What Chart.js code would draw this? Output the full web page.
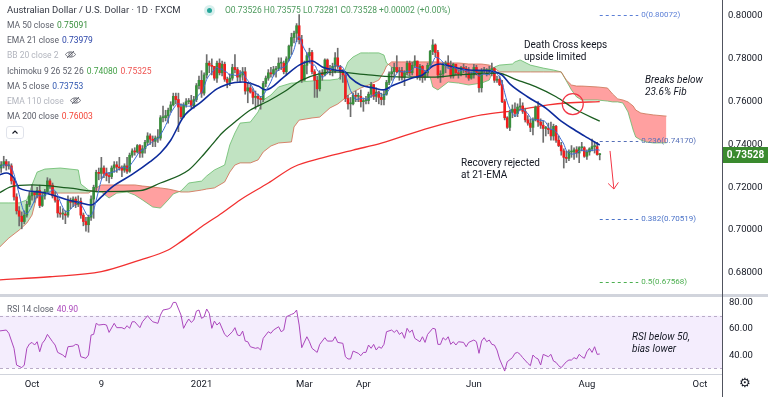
<!DOCTYPE html>
<html>
<head>
<meta charset="utf-8">
<title>AUDUSD 1D</title>
<script src="https://cdn.jsdelivr.net/npm/chart.js@4.4.0/dist/chart.umd.min.js"></script>
<style>
  html, body { margin: 0; padding: 0; background: #fff; }
  body { width: 768px; height: 397px; position: relative; overflow: hidden; font-family: Roboto, 'Liberation Sans', sans-serif; color: #131722; }
  canvas { position: absolute; left: 0; }
  #main { top: 0; }
  #rsi { top: 295px; }
  .t { position: absolute; white-space: nowrap; line-height: 12px; }
  .lg { font-size: 8.5px; color: #5d606b; }
  .lg b { font-weight: normal; margin-left: 3px; }
  .off { color: #b2b5be; }
  .note { font-size: 10px; line-height: 11.5px; color: #131722; }
  .note.it { font-style: italic; }
  .fib { font-size: 8px; line-height: 10px; }
  .sep { position: absolute; background: #d1d4dc; }
</style>
</head>
<body>
<canvas id="main" width="768" height="294"></canvas>
<canvas id="rsi" width="768" height="102"></canvas>

<div class="sep" style="left:0;top:294px;width:768px;height:3px;"></div>
<div class="sep" style="left:0;top:374px;width:722px;height:1px;"></div>
<div class="sep" style="left:722px;top:0;width:1px;height:397px;background:#50535e;"></div>

<!-- header legend -->
<div class="t" style="left:7px;top:4px;font-size:9.5px;color:#363a45;">Australian Dollar / U.S. Dollar · 1D · FXCM</div>
<div style="position:absolute;left:204px;top:5px;width:11px;height:11px;border-radius:50%;background:rgba(38,166,154,0.18);"></div>
<div style="position:absolute;left:207px;top:8px;width:5px;height:5px;border-radius:50%;background:#26a69a;"></div>
<div class="t" style="left:225px;top:4px;font-size:8.5px;color:#4d9a5d;">O0.73526 H0.73575 L0.73281 C0.73528 +0.00002 (+0.00%)</div>

<div class="t lg" style="left:7px;top:19px;">MA 50 close<b style="color:#388e3c">0.75091</b></div>
<div class="t lg" style="left:7px;top:34px;">EMA 21 close<b style="color:#2b45a8">0.73979</b></div>
<div class="t lg off" style="left:7px;top:49px;">BB 20 close 2
  <svg width="11" height="9" viewBox="0 0 22 18" style="margin-left:4px;vertical-align:-1px"><path d="M1 9C5 2 17 2 21 9C17 16 5 16 1 9Z" fill="none" stroke="#5d606b" stroke-width="1.8"/><circle cx="11" cy="9" r="3.5" fill="none" stroke="#5d606b" stroke-width="1.8"/><line x1="4" y1="16" x2="18" y2="2" stroke="#5d606b" stroke-width="1.8"/></svg></div>
<div class="t lg" style="left:7px;top:65px;">Ichimoku 9 26 52 26<b style="color:#43a047">0.74080</b><b style="color:#ef5350">0.75325</b></div>
<div class="t lg" style="left:7px;top:80px;">MA 5 close<b style="color:#2f56b0">0.73753</b></div>
<div class="t lg off" style="left:7px;top:95px;">EMA 110 close
  <svg width="11" height="9" viewBox="0 0 22 18" style="margin-left:4px;vertical-align:-1px"><path d="M1 9C5 2 17 2 21 9C17 16 5 16 1 9Z" fill="none" stroke="#5d606b" stroke-width="1.8"/><circle cx="11" cy="9" r="3.5" fill="none" stroke="#5d606b" stroke-width="1.8"/><line x1="4" y1="16" x2="18" y2="2" stroke="#5d606b" stroke-width="1.8"/></svg></div>
<div class="t lg" style="left:7px;top:110px;">MA 200 close<b style="color:#f44336">0.76003</b></div>
<div style="position:absolute;left:6px;top:126px;width:18px;height:13px;border:1px solid #e0e3eb;border-radius:3px;box-sizing:border-box;">
  <svg width="16" height="11" viewBox="0 0 16 11" style="position:absolute;left:0;top:0"><polyline points="5.5,6.5 8,4 10.5,6.5" fill="none" stroke="#131722" stroke-width="1.1"/></svg>
</div>

<!-- annotations -->
<div class="t note" style="left:524px;top:39px;">Death Cross keeps<br>upside limited</div>
<div class="t note it" style="left:645px;top:74px;">Breaks below<br>23.6% Fib</div>
<div class="t note" style="left:461px;top:157px;">Recovery rejected<br>at 21-EMA</div>
<div class="t note it" style="left:632px;top:331px;">RSI below 50,<br>bias lower</div>

<div class="t lg" style="left:7px;top:303px;">RSI 14 close<b style="color:#ab47bc">40.90</b></div>
<div class="t" style="left:739px;top:377px;font-size:13px;font-family:'DejaVu Sans';color:#131722;">⚙</div>

<script>
// daily AUD/USD candles, 14 Sep 2020 .. 9 Aug 2021 (index = trading day)
const closes = [
  0.7290,0.7305,0.7320,0.7300,0.7300,0.7230,0.7155,0.7090,0.7065,0.7040,
  0.7070,0.7120,0.7160,0.7175,0.7165,0.7185,0.7115,0.7160,0.7180,0.7230,
  0.7210,0.7160,0.7140,0.7080,0.7075,0.7075,0.7070,0.7135,0.7130,0.7145,
  0.7120,0.7135,0.7070,0.7040,0.7025,0.7060,0.7145,0.7200,0.7270,0.7265,
  0.7290,0.7265,0.7255,0.7250,0.7290,0.7305,0.7295,0.7290,0.7280,0.7300,
  0.7275,0.7350,0.7370,0.7365,0.7395,0.7360,0.7380,0.7410,0.7440,0.7425,
  0.7415,0.7430,0.7430,0.7525,0.7525,0.7535,0.7560,0.7585,0.7625,0.7610,
  0.7575,0.7530,0.7585,0.7600,0.7605,0.7580,0.7610,0.7675,0.7700,
  0.7640,0.7725,0.7780,0.7770,0.7765,0.7710,0.7780,0.7735,0.7775,0.7705,
  0.7690,0.7710,0.7760,0.7750,0.7715,0.7725,0.7740,0.7650,0.7665,0.7645,
  0.7620,0.7625,0.7615,0.7610,0.7685,0.7710,0.7735,0.7730,0.7750,0.7755,
  0.7780,0.7780,0.7740,0.7800,0.7860,0.7900,0.7920,0.7955,0.7890,0.7700,
  0.7770,0.7815,0.7830,0.7740,0.7700,0.7660,0.7735,0.7725,0.7795,0.7750,
  0.7745,0.7765,0.7805,0.7765,0.7740,0.7725,0.7615,0.7590,0.7590,0.7630,
  0.7625,0.7625,0.7600,0.7605,0.7605,0.7635,0.7680,0.7625,0.7645,0.7620,
  0.7610,0.7635,0.7690,0.7730,0.7740,0.7760,0.7740,0.7745,0.7715,0.7735,
  0.7780,0.7735,0.7770,0.7790,0.7715,0.7765,0.7715,0.7735,0.7770,0.7835,
  0.7865,0.7830,0.7725,0.7730,0.7770,0.7780,0.7770,0.7720,0.7775,0.7735,
  0.7730,0.7760,0.7755,0.7740,0.7710,0.7725,0.7760,0.7735,0.7665,0.7745,
  0.7745,0.7745,0.7745,0.7755,0.7700,0.7705,0.7680,0.7600,0.7525,0.7480,
  0.7550,0.7565,0.7545,0.7575,0.7580,0.7555,0.7515,0.7500,0.7480,0.7515,
  0.7575,0.7505,0.7490,0.7475,0.7475,0.7470,0.7440,0.7485,0.7420,0.7395,
  0.7370,0.7340,0.7335,0.7365,0.7365,0.7375,0.7360,0.7385,0.7385,0.7345,
  0.7365,0.7380,0.7390,0.7390,0.7353,0.73528
];
const highs = [
  0.7300,0.7320,0.7345,0.7330,0.7320,0.7310,0.7240,0.7170,0.7110,0.7085,
  0.7090,0.7135,0.7180,0.7210,0.7180,0.7200,0.7210,0.7175,0.7190,0.7245,
  0.7240,0.7220,0.7180,0.7155,0.7110,0.7100,0.7090,0.7160,0.7150,0.7155,
  0.7155,0.7160,0.7150,0.7080,0.7060,0.7070,0.7160,0.7210,0.7280,0.7290,
  0.7340,0.7300,0.7290,0.7270,0.7300,0.7320,0.7320,0.7340,0.7300,0.7310,
  0.7340,0.7360,0.7380,0.7385,0.7400,0.7400,0.7395,0.7420,0.7455,0.7450,
  0.7440,0.7440,0.7470,0.7535,0.7580,0.7560,0.7570,0.7600,0.7640,0.7640,
  0.7640,0.7590,0.7595,0.7615,0.7615,0.7630,0.7625,0.7685,0.7720,
  0.7745,0.7735,0.7820,0.7790,0.7800,0.7765,0.7790,0.7800,0.7790,0.7785,
  0.7715,0.7730,0.7775,0.7820,0.7760,0.7745,0.7760,0.7760,0.7690,0.7690,
  0.7660,0.7650,0.7635,0.7625,0.7695,0.7720,0.7750,0.7760,0.7765,0.7765,
  0.7805,0.7805,0.7790,0.7810,0.7865,0.7920,0.7930,0.7965,0.8007,0.7910,
  0.7790,0.7830,0.7850,0.7840,0.7750,0.7720,0.7745,0.7750,0.7800,0.7800,
  0.7770,0.7780,0.7830,0.7850,0.7770,0.7750,0.7735,0.7630,0.7620,0.7640,
  0.7650,0.7640,0.7655,0.7615,0.7625,0.7645,0.7690,0.7680,0.7665,0.7650,
  0.7640,0.7650,0.7700,0.7740,0.7760,0.7780,0.7815,0.7760,0.7760,0.7745,
  0.7790,0.7790,0.7785,0.7815,0.7790,0.7775,0.7770,0.7745,0.7780,0.7840,
  0.7890,0.7870,0.7840,0.7745,0.7780,0.7790,0.7815,0.7790,0.7780,0.7775,
  0.7750,0.7765,0.7775,0.7765,0.7760,0.7740,0.7775,0.7770,0.7745,0.7755,
  0.7760,0.7755,0.7765,0.7780,0.7760,0.7720,0.7720,0.7700,0.7610,0.7530,
  0.7560,0.7585,0.7595,0.7590,0.7615,0.7595,0.7570,0.7535,0.7520,0.7525,
  0.7580,0.7600,0.7520,0.7510,0.7485,0.7500,0.7505,0.7495,0.7490,0.7440,
  0.7410,0.7380,0.7370,0.7375,0.7395,0.7385,0.7390,0.7390,0.7410,0.7390,
  0.7375,0.7385,0.7425,0.7410,0.7410,0.73575
];
const lows = [
  0.7265,0.7270,0.7290,0.7280,0.7285,0.7215,0.7140,0.7075,0.7020,0.7006,
  0.7030,0.7060,0.7110,0.7140,0.7130,0.7150,0.7105,0.7110,0.7145,0.7170,
  0.7195,0.7150,0.7130,0.7060,0.7060,0.7050,0.7030,0.7060,0.7100,0.7110,
  0.7105,0.7110,0.7055,0.7020,0.6995,0.6990,0.7045,0.7055,0.7180,0.7235,
  0.7240,0.7245,0.7230,0.7220,0.7240,0.7270,0.7270,0.7280,0.7250,0.7270,
  0.7265,0.7270,0.7340,0.7350,0.7360,0.7340,0.7340,0.7360,0.7395,0.7400,
  0.7390,0.7390,0.7410,0.7420,0.7505,0.7510,0.7500,0.7550,0.7580,0.7590,
  0.7460,0.7520,0.7525,0.7575,0.7590,0.7570,0.7570,0.7600,0.7660,
  0.7620,0.7630,0.7710,0.7735,0.7725,0.7700,0.7690,0.7725,0.7720,0.7695,
  0.7665,0.7675,0.7700,0.7735,0.7695,0.7690,0.7700,0.7635,0.7595,0.7640,
  0.7590,0.7565,0.7580,0.7565,0.7600,0.7670,0.7700,0.7715,0.7720,0.7715,
  0.7745,0.7750,0.7730,0.7725,0.7790,0.7820,0.7875,0.7880,0.7870,0.7690,
  0.7700,0.7730,0.7780,0.7730,0.7620,0.7620,0.7650,0.7700,0.7720,0.7730,
  0.7725,0.7720,0.7735,0.7755,0.7705,0.7690,0.7600,0.7565,0.7530,0.7585,
  0.7600,0.7600,0.7575,0.7555,0.7590,0.7590,0.7620,0.7610,0.7600,0.7590,
  0.7585,0.7585,0.7630,0.7680,0.7700,0.7710,0.7735,0.7700,0.7700,0.7675,
  0.7725,0.7720,0.7725,0.7760,0.7705,0.7700,0.7690,0.7700,0.7715,0.7760,
  0.7820,0.7810,0.7710,0.7690,0.7715,0.7735,0.7760,0.7710,0.7710,0.7725,
  0.7710,0.7720,0.7735,0.7715,0.7700,0.7705,0.7710,0.7725,0.7645,0.7645,
  0.7730,0.7720,0.7725,0.7720,0.7690,0.7690,0.7675,0.7595,0.7515,0.7475,
  0.7465,0.7525,0.7530,0.7530,0.7560,0.7545,0.7505,0.7490,0.7460,0.7445,
  0.7510,0.7485,0.7475,0.7410,0.7440,0.7450,0.7420,0.7420,0.7410,0.7390,
  0.7350,0.7290,0.7315,0.7325,0.7340,0.7330,0.7340,0.7315,0.7370,0.7340,
  0.7330,0.7350,0.7370,0.7360,0.7350,0.73281
];
const firstOpen = 0.7280;
const lastOpen = 0.73526;

// indicator lines (trading-day index, value)
const ma200Idx = [0,20,40,55,66,71,79,87,94,105,115,126,138,149,166,179,188,202,214,221,234];
const ma200Val = [0.6767,0.6782,0.6806,0.6860,0.6907,0.6946,0.7016,0.7080,0.7141,0.7220,0.7296,0.7337,0.7374,0.7406,0.7472,0.7514,0.7538,0.7561,0.7585,0.7594,0.76003];

const ma50Idx = [0,5,13,27,40,55,63,74,79,83,87,92,98,105,111,118,131,144,157,170,179,194,202,209,217,225,234];
const ma50Val = [0.7172,0.7203,0.7211,0.7197,0.7180,0.7184,0.7220,0.7281,0.7342,0.7398,0.7454,0.7505,0.7561,0.7603,0.7645,0.7701,0.7739,0.7725,0.7715,0.7715,0.7725,0.7734,0.7701,0.7670,0.7623,0.7561,0.75091];

const ema21Idx = [0,3,6,8,16,21,27,32,36,40,44,52,59,63,67,72,79,85,92,95,101,104,111,117,122,126,131,135,137,141,146,150,153,157,161,165,169,172,177,183,192,196,199,206,213,218,223,228,234];
const ema21Val = [0.7257,0.7267,0.7243,0.7196,0.7178,0.7164,0.7141,0.7127,0.7117,0.7155,0.7200,0.7260,0.7320,0.7360,0.7420,0.7530,0.7600,0.7660,0.7690,0.7692,0.7673,0.7655,0.7715,0.7771,0.7790,0.7762,0.7748,0.7739,0.7711,0.7678,0.7664,0.7655,0.7673,0.7692,0.7711,0.7725,0.7767,0.7776,0.7762,0.7748,0.7743,0.7724,0.7683,0.7622,0.7570,0.7519,0.7477,0.7440,0.73979];

// Ichimoku leading spans (already shifted 26 bars forward)
const cloudIdx = [0,4,8,11,13,15,18,24,31,32,35,38,40,43,46,50,53,56,60,63,66,68,71,74,79,81,84,88,90,92,94,98,101,103,106,109,114,115,117,122,125,129,132,134,136,138,141,144,148,150,151,153,157,161,168,169,171,175,179,183,188,191,193,195,200,201,203,207,212,216,219,221,223,225,227,233,237,239,241,243,245,247,248,250,252,255,260];
const spanA = [0.7127,0.7127,0.7127,0.7141,0.7211,0.7271,0.7285,0.7290,0.7281,0.7215,0.7187,0.7178,0.7178,0.7150,0.7173,0.7178,0.7164,0.7141,0.7108,0.7103,0.7141,0.7169,0.7183,0.7220,0.7229,0.7253,0.7281,0.7304,0.7398,0.7454,0.7500,0.7505,0.7552,0.7608,0.7631,0.7669,0.7687,0.7687,0.7692,0.7697,0.7701,0.7701,0.7706,0.7725,0.7786,0.7809,0.7828,0.7828,0.7828,0.7818,0.7781,0.7762,0.7734,0.7715,0.7715,0.7669,0.7655,0.7692,0.7687,0.7678,0.7687,0.7701,0.7762,0.7771,0.7776,0.7786,0.7795,0.7771,0.7757,0.7748,0.7739,0.7697,0.7655,0.7622,0.7608,0.7608,0.7603,0.7599,0.7599,0.7594,0.7552,0.7468,0.7435,0.7421,0.7412,0.7407,0.74080];
const spanB = [0.6916,0.6963,0.7000,0.7033,0.7070,0.7164,0.7173,0.7173,0.7173,0.7173,0.7173,0.7197,0.7211,0.7211,0.7211,0.7211,0.7211,0.7206,0.7201,0.7197,0.7192,0.7187,0.7178,0.7178,0.7187,0.7192,0.7197,0.7225,0.7271,0.7304,0.7314,0.7314,0.7328,0.7365,0.7393,0.7407,0.7412,0.7482,0.7514,0.7524,0.7528,0.7571,0.7589,0.7608,0.7630,0.7645,0.7664,0.7678,0.7701,0.7739,0.7767,0.7786,0.7786,0.7786,0.7786,0.7786,0.7786,0.7781,0.7781,0.7776,0.7776,0.7771,0.7757,0.7739,0.7739,0.7739,0.7739,0.7739,0.7739,0.7739,0.7739,0.7701,0.7678,0.7673,0.7673,0.7669,0.7664,0.7636,0.7613,0.7608,0.7599,0.7580,0.7561,0.7547,0.7543,0.7538,0.75325];

// RSI 14
const rsiIdx = [0,3,4,6,7,9,10,11,12,13,14,15,16,17,18,19,21,22,23,25,26,27,29,30,31,32,34,35,36,37,38,39,41,42,43,45,46,48,49,50,51,52,53,55,56,58,59,60,62,63,64,66,67,68,69,71,72,73,74,75,76,77,78,79,80,81,82,83,84,85,86,88,89,91,92,93,94,95,96,97,98,100,101,102,103,105,106,107,109,110,111,112,114,115,116,117,118,120,121,122,124,125,127,128,130,131,132,134,135,136,137,138,140,141,142,143,144,145,146,147,148,149,150,151,153,154,155,156,157,158,159,160,161,162,164,165,166,167,169,170,171,172,173,174,175,176,177,178,179,181,182,183,185,186,187,188,189,190,191,192,193,194,195,196,197,198,200,201,202,203,204,206,207,208,209,210,211,212,214,215,216,217,218,219,221,222,223,224,225,226,227,228,229,230,231,232,233,234];
const rsiVal = [58.3,59.1,56.6,45.2,32.5,30.5,32.5,45.2,48.5,49.7,47.7,50.2,42.6,49.0,51.5,55.8,50.2,47.7,42.1,40.1,38.3,46.4,46.9,48.2,47.7,38.8,37.6,40.1,55.3,55.8,64.2,62.9,63.4,62.9,57.3,64.2,60.9,60.9,59.9,62.4,60.4,65.4,65.4,60.9,65.4,70.0,67.5,65.4,64.2,70.5,74.3,75.1,76.1,80.1,80.1,70.5,60.4,64.2,67.5,64.9,66.7,73.5,74.3,68.0,69.2,75.1,71.8,60.4,65.9,62.9,64.9,55.8,54.0,57.8,60.9,55.3,54.8,58.3,50.7,50.2,46.4,45.2,45.7,43.9,52.8,57.8,56.6,59.1,61.6,57.8,59.1,69.2,71.0,71.8,74.3,62.9,45.7,54.0,50.2,45.2,42.1,48.2,53.3,50.7,50.7,54.0,49.7,49.0,38.8,37.1,37.1,43.1,41.4,39.6,42.1,42.1,47.7,45.2,48.2,43.9,46.4,45.2,48.2,57.8,59.1,57.3,59.1,55.8,57.3,52.8,60.4,57.3,59.1,52.8,50.2,54.0,49.7,55.8,60.4,59.9,48.2,48.2,53.3,51.5,54.0,48.2,50.2,47.7,50.2,49.7,46.4,49.7,51.5,50.2,41.4,50.7,53.3,50.2,51.5,48.2,47.7,43.9,37.1,32.5,27.9,35.0,38.1,41.4,42.1,40.6,38.1,33.8,32.0,40.1,38.1,37.1,32.5,40.6,38.8,40.6,35.5,34.5,32.0,30.5,35.0,36.3,36.3,38.1,37.1,40.6,38.8,37.6,42.6,45.2,42.1,46.4,40.6,40.9];
const rsiBands = [30, 70];

// Fibonacci retracement levels
const fibLabels = ['0(0.80072)', '0.236(0.74170)', '0.382(0.70519)', '0.5(0.67568)'];
const fibPrices = [0.80072, 0.74170, 0.70519, 0.67568];
const fibColors = ['#5b7fd6', '#5670b8', '#4a72c8', '#4caf50'];
const fibFrom = 234, fibTo = 249;

// axis ticks
const priceTicks = [0.68, 0.70, 0.72, 0.74, 0.76, 0.78, 0.80];
const rsiTicks = [40, 60, 80];
const tickIdx = [13, 40, 79, 119, 142, 185, 229, 273];
const tickText = ['Oct', '9', '2021', 'Mar', 'Apr', 'Jun', 'Aug', 'Oct'];

// drawn marks: death-cross circle and the downside arrow
const crossAt = [223.5, 0.7589];
const arrowFrom = [238, 0.7370];
const arrowTo = [239.5, 0.7192];

const xMin = 0.545, xMax = 281.59;
const upColor = '#388e3c', downColor = '#f01e1e';

Chart.defaults.font.family = 'Roboto, "Liberation Sans", sans-serif';

const days = closes.map((_, i) => i);
const opens = closes.map((c, i) => i === 0 ? firstOpen : closes[i - 1]);
opens[opens.length - 1] = lastOpen;
const ma5 = closes.map((_, i) => {
  const w = closes.slice(Math.max(0, i - 4), i + 1);
  return w.reduce((s, v) => s + v, 0) / w.length;
});
const pts = (xs, ys) => xs.map((x, i) => ({ x: x, y: ys[i] }));

const noPad = s => { s.paddingTop = 0; s.paddingBottom = 0; s.paddingLeft = 0; s.paddingRight = 0; };

const lineDs = (data, color, width, order) => ({
  type: 'line', data: data, borderColor: color, borderWidth: width,
  pointRadius: 0, fill: false, cubicInterpolationMode: 'monotone', order: order
});

const marks = {
  id: 'marks',
  afterDatasetsDraw(chart) {
    const { ctx, scales: { x, y } } = chart;
    ctx.save();
    ctx.lineWidth = 1;
    ctx.setLineDash([3, 3]);
    fibPrices.forEach((p, k) => {
      const py = Math.round(y.getPixelForValue(p)) + 0.5;
      ctx.strokeStyle = fibColors[k];
      ctx.beginPath();
      ctx.moveTo(x.getPixelForValue(fibFrom), py);
      ctx.lineTo(x.getPixelForValue(fibTo), py);
      ctx.stroke();
    });
    ctx.setLineDash([]);
    ctx.strokeStyle = '#f23645';
    ctx.lineWidth = 1.2;
    ctx.beginPath();
    ctx.arc(x.getPixelForValue(crossAt[0]), y.getPixelForValue(crossAt[1]), 10.5, 0, Math.PI * 2);
    ctx.stroke();
    const x1 = x.getPixelForValue(arrowFrom[0]), y1 = y.getPixelForValue(arrowFrom[1]);
    const x2 = x.getPixelForValue(arrowTo[0]), y2 = y.getPixelForValue(arrowTo[1]);
    ctx.lineWidth = 1;
    ctx.beginPath();
    ctx.moveTo(x1, y1);
    ctx.lineTo(x2, y2);
    const ang = Math.atan2(y2 - y1, x2 - x1);
    ctx.moveTo(x2 - 8 * Math.cos(ang - 0.7), y2 - 8 * Math.sin(ang - 0.7));
    ctx.lineTo(x2, y2);
    ctx.lineTo(x2 - 8 * Math.cos(ang + 0.7), y2 - 8 * Math.sin(ang + 0.7));
    ctx.stroke();
    ctx.restore();
  }
};

const mainChart = new Chart(document.getElementById('main'), {
  type: 'bar',
  data: {
    datasets: [
      {
        type: 'line', data: pts(cloudIdx, spanA), borderColor: 'rgba(102,187,106,0.8)', borderWidth: 1,
        pointRadius: 0, tension: 0, order: 10,
        fill: { target: 1, above: 'rgba(76,175,80,0.35)', below: 'rgba(255,82,82,0.55)' }
      },
      { type: 'line', data: pts(cloudIdx, spanB), borderColor: 'rgba(205,110,80,0.8)', borderWidth: 1, pointRadius: 0, tension: 0, fill: false, order: 9 },
      lineDs(pts(ma200Idx, ma200Val), '#f23030', 1.3, 8),
      {
        data: days.map(i => ({ x: i, y: [Math.min(lows[i], opens[i], closes[i]), Math.max(highs[i], opens[i], closes[i])] })),
        backgroundColor: '#6e6e6e', barThickness: 1, grouped: false, order: 7
      },
      {
        data: days.map(i => ({ x: i, y: [opens[i], closes[i]] })),
        backgroundColor: days.map(i => closes[i] >= opens[i] ? upColor : downColor),
        barThickness: 2, minBarLength: 1, grouped: false, order: 6
      },
      lineDs(pts(ma50Idx, ma50Val), '#1b5e20', 1.3, 3),
      lineDs(pts(ema21Idx, ema21Val), '#0d2b9c', 1.6, 2),
      lineDs(pts(days, ma5), '#3a6bd4', 1, 1)
    ]
  },
  options: {
    responsive: false,
    animation: false,
    events: [],
    layout: { padding: 0 },
    plugins: { legend: { display: false }, tooltip: { enabled: false } },
    scales: {
      x: { type: 'linear', min: xMin, max: xMax, offset: false, display: false },
      y: {
        position: 'right', min: 0.67014, max: 0.80752, beginAtZero: false,
        afterFit: s => { s.width = 46; noPad(s); },
        afterBuildTicks: s => { s.ticks = priceTicks.map(v => ({ value: v })); },
        grid: { display: false, drawTicks: false },
        border: { display: false },
        ticks: { padding: 6, color: '#131722', font: { size: 9.5 }, callback: v => v.toFixed(5) }
      }
    }
  },
  plugins: [marks]
});

const rsiBand = {
  id: 'rsiBand',
  beforeDatasetsDraw(chart) {
    const { ctx, chartArea: a, scales: { y } } = chart;
    const top = y.getPixelForValue(rsiBands[1]);
    const bot = y.getPixelForValue(rsiBands[0]);
    ctx.save();
    ctx.fillStyle = 'rgba(149,76,233,0.1)';
    ctx.fillRect(a.left, top, a.right - a.left, bot - top);
    ctx.strokeStyle = '#b9abc8';
    ctx.lineWidth = 1;
    ctx.setLineDash([3, 3]);
    [top, bot].forEach(py => {
      ctx.beginPath();
      ctx.moveTo(a.left, Math.round(py) + 0.5);
      ctx.lineTo(a.right, Math.round(py) + 0.5);
      ctx.stroke();
    });
    ctx.restore();
  }
};

new Chart(document.getElementById('rsi'), {
  type: 'line',
  data: {
    datasets: [{ data: pts(rsiIdx, rsiVal), borderColor: '#ab47bc', borderWidth: 1, pointRadius: 0, tension: 0, fill: false }]
  },
  options: {
    responsive: false,
    animation: false,
    events: [],
    layout: { padding: { top: 2.5, left: 0, right: 0, bottom: 0 } },
    plugins: { legend: { display: false }, tooltip: { enabled: false } },
    scales: {
      x: {
        type: 'linear', min: xMin, max: xMax, offset: false,
        afterFit: s => { s.height = 23; noPad(s); },
        afterBuildTicks: s => { s.ticks = tickIdx.map(v => ({ value: v })); },
        grid: { display: false, drawTicks: false },
        border: { display: false },
        ticks: {
          autoSkip: false, maxRotation: 0, padding: 5, color: '#131722', font: { size: 9.5 },
          callback: v => tickText[tickIdx.indexOf(v)] || ''
        }
      },
      y: {
        position: 'right', min: 25.67, max: 83.84,
        afterFit: s => { s.width = 46; noPad(s); },
        afterBuildTicks: s => { s.ticks = rsiTicks.map(v => ({ value: v })); },
        grid: { display: false, drawTicks: false },
        border: { display: false },
        ticks: { padding: 7, color: '#131722', font: { size: 9.5 }, callback: v => v.toFixed(2) }
      }
    }
  },
  plugins: [rsiBand]
});

// labels that follow the price scale
const xs = mainChart.scales.x, ys = mainChart.scales.y;
fibLabels.forEach((t, k) => {
  const d = document.createElement('div');
  d.className = 't fib';
  d.style.color = fibColors[k];
  d.style.left = (xs.getPixelForValue(fibTo) + 3) + 'px';
  d.style.top = (ys.getPixelForValue(fibPrices[k]) - 5) + 'px';
  d.textContent = t;
  document.body.appendChild(d);
});
const last = closes[closes.length - 1];
const tag = document.createElement('div');
tag.className = 't';
tag.style.cssText = 'left:723px;width:45px;height:16px;line-height:16px;text-align:center;background:#3a8a2e;color:#fff;font-size:10px;font-weight:bold;';
tag.style.top = (ys.getPixelForValue(last) - 8) + 'px';
tag.textContent = last.toFixed(5);
document.body.appendChild(tag);
</script>
</body>
</html>
